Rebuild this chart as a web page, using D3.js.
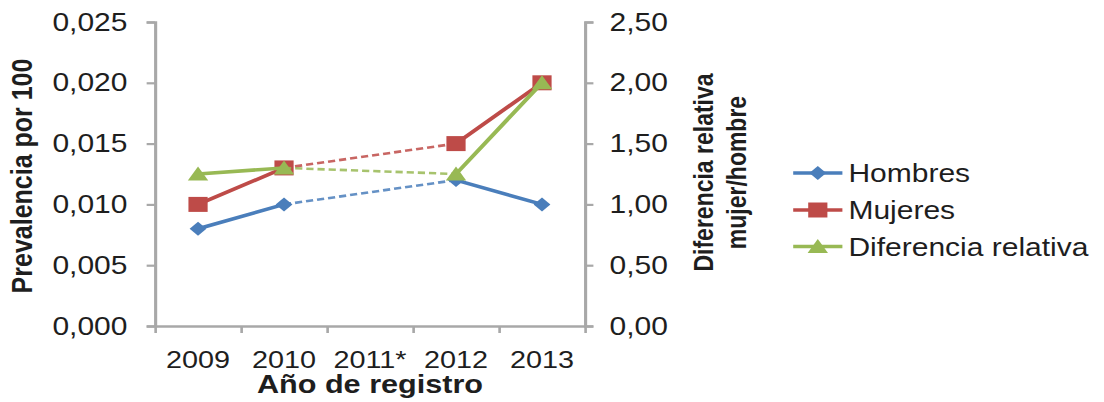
<!DOCTYPE html>
<html>
<head>
<meta charset="utf-8">
<script src="https://cdn.jsdelivr.net/npm/d3@7"></script>
<style>
  html, body { margin: 0; padding: 0; background: #fff; }
  svg { display: block; }
  text { font-family: "Liberation Sans", Arial, sans-serif; fill: #1e1e1e; }
</style>
</head>
<body>
<svg id="chart"></svg>
<script>
// Prevalencia por 100 by year of registry, with relative difference women/men
const years = ["2009", "2010", "2011*", "2012", "2013"];
const hombres = [0.008, 0.010, null, 0.012, 0.010];
const mujeres = [0.010, 0.013, null, 0.015, 0.020];
const diferencia = [1.25, 1.30, null, 1.25, 2.00];

const leftTicks = [0, 0.005, 0.010, 0.015, 0.020, 0.025];
const rightTicks = [0, 0.5, 1.0, 1.5, 2.0, 2.5];

const seriesNames = ["Hombres", "Mujeres", "Diferencia relativa"];
const colors = { Hombres: "#4A7EBB", Mujeres: "#BE4B48", "Diferencia relativa": "#98B954" };

// the drawing is laid out on a narrower canvas and stretched to the window width
const W = 1104, H = 402, sx = 1.2;
const IW = W / sx;

const svg = d3.select("#chart")
  .attr("width", W).attr("height", H)
  .attr("viewBox", `0 0 ${IW} ${H}`)
  .attr("preserveAspectRatio", "none");

const plot = { left: 129.2, right: 487.5, top: 22, bottom: 326 };

const x = d3.scaleBand().domain(years).range([plot.left, plot.right]);
const xc = d => x(d) + x.bandwidth() / 2;
const yL = d3.scaleLinear().domain([0, 0.025]).range([plot.bottom, plot.top]);
const yR = d3.scaleLinear().domain([0, 2.5]).range([plot.bottom, plot.top]);

const axisColor = "#a8a8a8";
const fmt = n => d => d.toFixed(n).replace(".", ",");

function styleAxis(g, size = 25) {
  g.select(".domain").attr("stroke", axisColor).attr("stroke-width", 2.6);
  g.selectAll(".tick line").attr("stroke", axisColor).attr("stroke-width", 2.2);
  g.selectAll("text").attr("fill", "#1e1e1e").style("font-size", size + "px")
    .style("font-family", '"Liberation Sans", Arial, sans-serif');
}

// left axis
svg.append("g")
  .attr("transform", `translate(${plot.left},0)`)
  .call(d3.axisLeft(yL).tickValues(leftTicks).tickFormat(fmt(3)).tickSize(7).tickPadding(16))
  .call(styleAxis);

// right axis
svg.append("g")
  .attr("transform", `translate(${plot.right},0)`)
  .call(d3.axisRight(yR).tickValues(rightTicks).tickFormat(fmt(2)).tickSize(7).tickPadding(13.5))
  .call(styleAxis);

// x axis: labels centred in bands, ticks on band boundaries
const bounds = years.map(d => x(d)).concat([plot.right]);
const xb = d3.scaleLinear().domain([plot.left, plot.right]).range([plot.left, plot.right]);
svg.append("g")
  .attr("transform", `translate(0,${plot.bottom})`)
  .call(d3.axisBottom(xb).tickValues(bounds).tickFormat("").tickSize(7).tickSizeOuter(0))
  .call(styleAxis);
svg.append("g")
  .attr("transform", `translate(0,${plot.bottom})`)
  .call(d3.axisBottom(x).tickSize(0).tickPadding(24.5))
  .call(g => styleAxis(g, 24))
  .call(g => g.select(".domain").remove());

// axis titles
svg.append("text")
  .attr("transform", `translate(26.5,176) rotate(-90)`)
  .attr("text-anchor", "middle")
  .style("font-size", "25px").style("font-weight", "bold")
  .text("Prevalencia por 100");

svg.append("text")
  .attr("transform", `translate(594,172.5) rotate(-90)`)
  .attr("text-anchor", "middle")
  .style("font-size", "23px").style("font-weight", "bold")
  .text("Diferencia relativa");
svg.append("text")
  .attr("transform", `translate(622,172.5) rotate(-90)`)
  .attr("text-anchor", "middle")
  .style("font-size", "23px").style("font-weight", "bold")
  .text("mujer/hombre");

svg.append("text")
  .attr("x", (plot.left + plot.right) / 2).attr("y", 393)
  .attr("text-anchor", "middle")
  .style("font-size", "25.5px").style("font-weight", "bold")
  .text("Año de registro");

// marker shapes
const markers = {
  Hombres: "M0,-7L7,0L0,7L-7,0Z",
  Mujeres: "M-8,-7.5H8V7.5H-8Z",
  "Diferencia relativa": "M0,-7.5L8.5,6.5H-8.5Z"
};

const series = [
  { name: "Hombres", values: hombres, y: yL },
  { name: "Mujeres", values: mujeres, y: yL },
  { name: "Diferencia relativa", values: diferencia, y: yR }
];

series.forEach(s => {
  const pts = years.map((yr, i) => ({ yr, v: s.values[i] }));
  const g = svg.append("g");
  const line = d3.line().defined(d => d.v != null).x(d => xc(d.yr)).y(d => s.y(d.v));

  // solid segments between reported years
  g.append("path").datum(pts)
    .attr("d", line)
    .attr("fill", "none").attr("stroke", colors[s.name])
    .attr("stroke-width", 3.6).attr("stroke-linejoin", "round");

  // dashed bridge across years without data
  const known = pts.filter(d => d.v != null);
  for (let k = 0; k < known.length - 1; k++) {
    const a = pts.indexOf(known[k]), b = pts.indexOf(known[k + 1]);
    if (b - a > 1) {
      g.append("path").datum([known[k], known[k + 1]])
        .attr("d", d3.line().x(d => xc(d.yr)).y(d => s.y(d.v)))
        .attr("fill", "none").attr("stroke", colors[s.name])
        .attr("stroke-opacity", 0.85)
        .attr("stroke-width", 2.6).attr("stroke-dasharray", "6,3.3");
    }
  }

  g.selectAll(".m").data(known).join("path")
    .attr("transform", d => `translate(${xc(d.yr)},${s.y(d.v)})`)
    .attr("d", markers[s.name])
    .attr("fill", colors[s.name]);
});

// legend
const legendY = [173, 210, 246.5];
const lg = svg.append("g");
seriesNames.forEach((name, i) => {
  const row = lg.append("g").attr("transform", `translate(0,${legendY[i]})`);
  row.append("line").attr("x1", 661).attr("x2", 702).attr("y1", 0).attr("y2", 0)
    .attr("stroke", colors[name]).attr("stroke-width", 3.6);
  row.append("path").attr("transform", "translate(681.5,0)")
    .attr("d", markers[name]).attr("fill", colors[name]);
  row.append("text").attr("x", 707).attr("y", 9)
    .style("font-size", "25px").text(name);
});
</script>
</body>
</html>
